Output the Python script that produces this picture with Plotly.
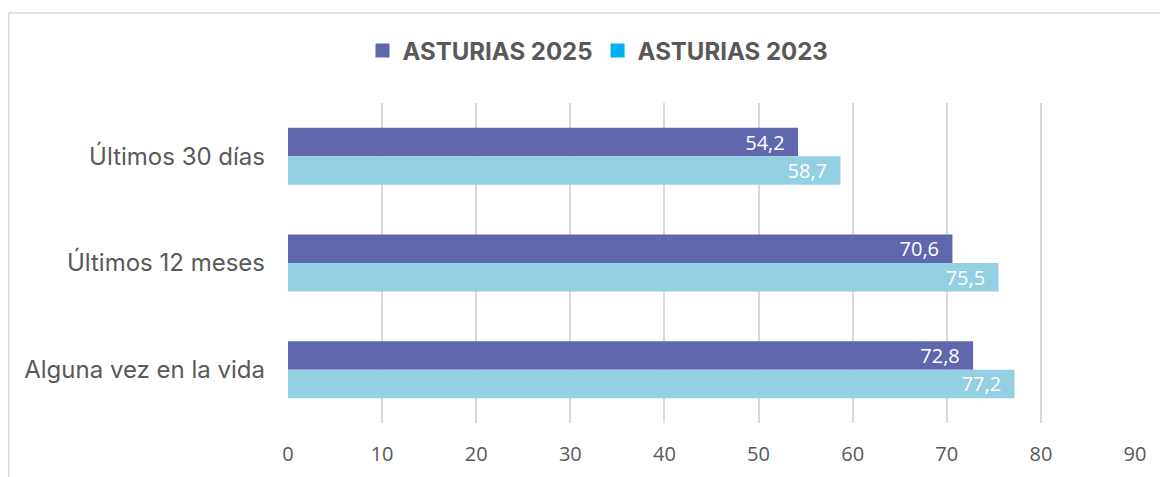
import plotly.graph_objects as go

categories = ["Últimos 30 días", "Últimos 12 meses", "Alguna vez en la vida"]
series_names = ["ASTURIAS 2025", "ASTURIAS 2023"]
values_2025 = [54.2, 70.6, 72.8]
values_2023 = [58.7, 75.5, 77.2]
x_ticks = [0, 10, 20, 30, 40, 50, 60, 70, 80, 90]

bar_colors = ["#6167AD", "#93D0E3"]
legend_colors = ["#6167AD", "#00B0F0"]

# page has an 8px body margin, so the figure is drawn 8px in from the window edge
W, H = 1160, 469
L, R, T, B = 280, 33, 95, 54
pw, ph = W - L - R, H - T - B

fig = go.Figure()
for name, vals, col in zip(series_names, [values_2025, values_2023], bar_colors):
    fig.add_trace(go.Bar(
        y=categories, x=vals, orientation="h", name=name,
        marker=dict(color=col, line=dict(width=0)),
        texttemplate="%{x:.1f}&nbsp;&nbsp;", textposition="inside",
        insidetextanchor="end", textangle=0, constraintext="none",
        textfont=dict(family="Open Sans", size=20, color="white"),
        showlegend=False,
    ))
for name, col in zip(series_names, legend_colors):
    fig.add_trace(go.Scatter(
        x=[None], y=[None], mode="markers", name=name,
        marker=dict(symbol="square", size=14, color=col),
    ))

def px_to_paper_x(px):
    return (px - L) / pw

def px_to_paper_y(py):
    return (H - B - py) / ph

border = dict(color="#D9D9D9", width=1.5)
fig.add_shape(type="line", xref="paper", yref="paper",
              x0=px_to_paper_x(0.75), x1=px_to_paper_x(1170),
              y0=px_to_paper_y(5), y1=px_to_paper_y(5), line=border, layer="below")
fig.add_shape(type="line", xref="paper", yref="paper",
              x0=px_to_paper_x(0.75), x1=px_to_paper_x(0.75),
              y0=px_to_paper_y(5), y1=px_to_paper_y(480), line=border, layer="below")

fig.update_layout(
    width=W, height=H,
    margin=dict(l=L, r=R, t=T, b=B, autoexpand=False),
    paper_bgcolor="white", plot_bgcolor="white",
    barmode="group", bargap=0.465, bargroupgap=0,
    separators=",.",
    font=dict(family="Open Sans", color="#595959"),
    legend=dict(
        orientation="h", x=590 / W, xanchor="center", xref="container",
        y=px_to_paper_y(43), yanchor="middle",
        font=dict(family="Inter", size=24, color="#595959", weight="bold"),
        itemwidth=30, tracegroupgap=0,
    ),
    xaxis=dict(
        range=[0, 90], tickvals=x_ticks, showgrid=True, gridcolor="#D9D9D9",
        gridwidth=1.5, zeroline=False, showline=False,
        tickfont=dict(family="Open Sans", size=20, color="#595959"),
        ticklabelstandoff=17, fixedrange=True,
    ),
    yaxis=dict(
        autorange="reversed", showgrid=False, zeroline=False, showline=False,
        tickfont=dict(family="Inter", size=24, color="#595959"),
        ticklabelstandoff=22,
    ),
)

fig.write_html("out.html")
